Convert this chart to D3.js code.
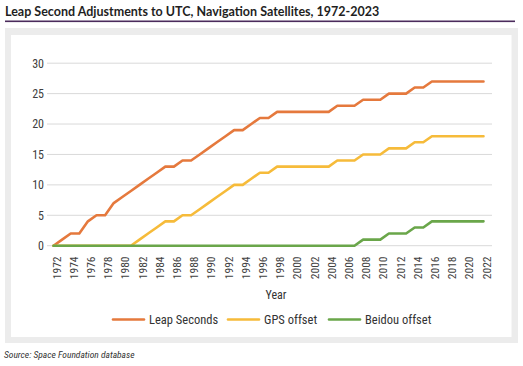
<!DOCTYPE html>
<html><head><meta charset="utf-8">
<script src="https://cdn.jsdelivr.net/npm/d3@7"></script>
<style>
html,body{margin:0;padding:0;background:#fff;}
svg{display:block;}
</style></head>
<body>
<svg id="c" width="523" height="366"></svg>
<script>
const years = d3.range(1972, 2023);
const leapSeconds = [0,1,2,2,4,5,5,7,8,9,10,11,12,13,13,14,14,15,16,17,18,19,19,20,21,21,22,22,22,22,22,22,22,23,23,23,24,24,24,25,25,25,26,26,27,27,27,27,27,27,27];
const gpsOffset   = [0,0,0,0,0,0,0,0,0,0,1,2,3,4,4,5,5,6,7,8,9,10,10,11,12,12,13,13,13,13,13,13,13,14,14,14,15,15,15,16,16,16,17,17,18,18,18,18,18,18,18];
const beidouOffset= [0,0,0,0,0,0,0,0,0,0,0,0,0,0,0,0,0,0,0,0,0,0,0,0,0,0,0,0,0,0,0,0,0,0,0,0,1,1,1,2,2,2,3,3,4,4,4,4,4,4,4];
const yTicks = [0,5,10,15,20,25,30];
const xTickYears = d3.range(1972, 2023, 2);
const seriesNames = ["Leap Seconds","GPS offset","Beidou offset"];
const seriesColors = ["#e5793d","#f6bb3a","#6aa64a"];
const seriesData = [leapSeconds, gpsOffset, beidouOffset];

const svg = d3.select("#c");
const FONT = "'Liberation Sans Narrow','Roboto Condensed',Roboto,sans-serif";

// title
svg.append("text").attr("x",5).attr("y",15.5)
  .attr("font-family","Lato,'Open Sans',sans-serif").attr("font-weight",700)
  .attr("font-size",12.5).attr("fill","#1f1f1f")
  .text("Leap Second Adjustments to UTC, Navigation Satellites, 1972-2023");
svg.append("rect").attr("x",5).attr("y",20.5).attr("width",510).attr("height",1.6).attr("fill","#4b2b5c");

// frame
svg.append("rect").attr("x",5).attr("y",28).attr("width",513).attr("height",315).attr("fill","#ececec");
svg.append("rect").attr("x",11).attr("y",35).attr("width",500.5).attr("height",302).attr("fill","#fff");

const x = d3.scalePoint().domain(years).range([53.5, 483.5]);
const y = d3.scaleLinear().domain([0,30]).range([245.7, 63.2]);

// grid
svg.append("g").selectAll("line").data(yTicks).join("line")
  .attr("x1",47).attr("x2",492).attr("y1",d=>y(d)).attr("y2",d=>y(d))
  .attr("stroke","#d9d9d9").attr("stroke-width",1);

// y axis
const ya = svg.append("g").attr("transform","translate(44,0)")
  .call(d3.axisLeft(y).tickValues(yTicks).tickSize(0).tickPadding(0));
ya.select(".domain").remove();
ya.selectAll("text").attr("font-family",FONT).attr("font-size",12).attr("fill","#404040");

// x axis
const xa = svg.append("g").attr("transform","translate(2.5,256.5)")
  .call(d3.axisBottom(x).tickValues(xTickYears).tickSize(0).tickPadding(0));
xa.select(".domain").remove();
xa.selectAll("text").attr("font-family",FONT).attr("font-size",11.5).attr("fill","#404040")
  .attr("transform","rotate(-90)").attr("text-anchor","end").attr("x",0).attr("y",0).attr("dy","0.35em");

svg.append("text").attr("x",276).attr("y",299).attr("text-anchor","middle")
  .attr("font-family",FONT).attr("font-size",12).attr("fill","#333").text("Year");

// lines
const line = d3.line().x((d,i)=>x(years[i])).y(d=>y(d));
seriesData.forEach((s,k)=>{
  svg.append("path").datum(s).attr("d",line).attr("fill","none")
    .attr("stroke",seriesColors[k]).attr("stroke-width",2.6)
    .attr("stroke-linejoin","round").attr("stroke-linecap","round");
});

// legend
const legX = [113, 228, 329];
const lg = svg.append("g");
seriesNames.forEach((n,k)=>{
  lg.append("line").attr("x1",legX[k]).attr("x2",legX[k]+31).attr("y1",319.5).attr("y2",319.5)
    .attr("stroke",seriesColors[k]).attr("stroke-width",2.6).attr("stroke-linecap","round");
  lg.append("text").attr("x",legX[k]+36).attr("y",323.5).attr("font-family",FONT).attr("font-size",12.5)
    .attr("fill","#333").text(n);
});

svg.append("text").attr("x",4).attr("y",357.5).attr("font-family",FONT).attr("font-style","italic")
  .attr("font-size",9.5).attr("fill","#333").text("Source: Space Foundation database");
</script>
</body></html>
